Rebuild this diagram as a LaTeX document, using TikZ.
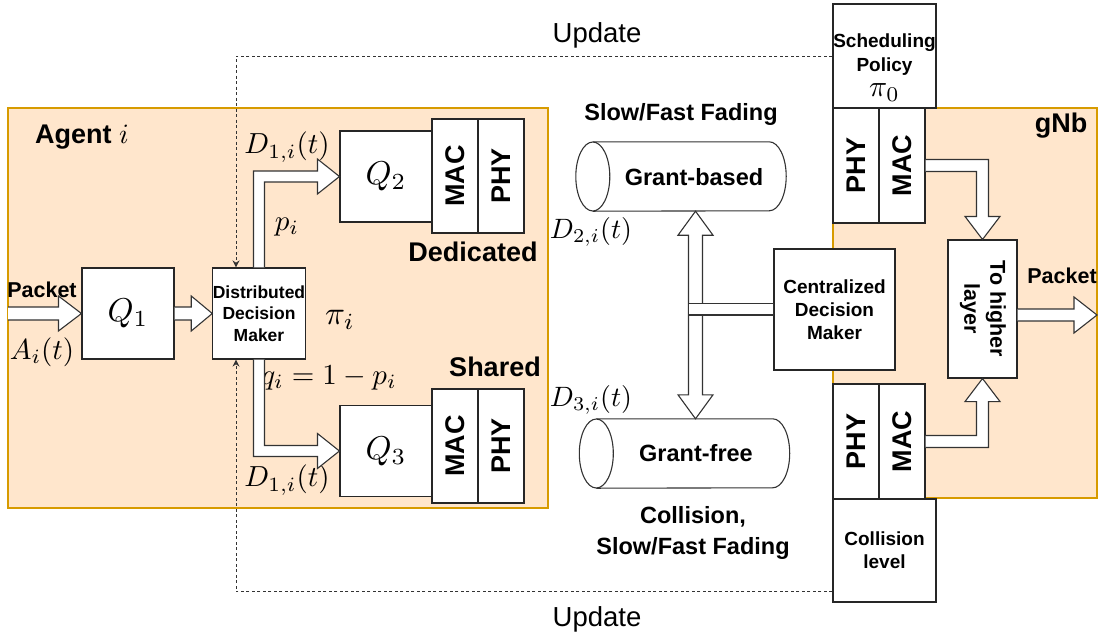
\RequirePackage{fix-cm}
\documentclass[tikz,border=0pt]{standalone}
\usepackage{fontspec}
\setsansfont{Liberation Sans}
\usepackage{graphicx}
\usetikzlibrary{arrows.meta,calc}
\newcommand{\scaledmath}[2]{\scalebox{#1}{\fontsize{10}{12}\selectfont$#2$}}

\begin{document}
\begin{tikzpicture}[
  x=1pt,y=-1pt,
  >=Latex,
  font=\sffamily,
  region/.style={draw=zoneline,fill=zonefill,line width=1.1pt},
  box/.style={draw=black!85,fill=white,line width=1.1pt,inner sep=0pt,align=center},
  queue/.style={box,minimum width=92pt,minimum height=91pt},
  macphy/.style={box,minimum width=46pt,minimum height=114pt,
    font=\sffamily\bfseries\fontsize{27}{30}\selectfont},
  ctrl/.style={box,font=\sffamily\bfseries\fontsize{19}{23}\selectfont},
  flex/.style={draw=black!80,fill=white,line width=1.1pt,line join=miter},
  update/.style={-{Stealth[length=7pt,width=7pt]},dash pattern=on 3pt off 2.5pt,
    line width=1pt,draw=black!80},
  heading/.style={font=\sffamily\bfseries\fontsize{27}{30}\selectfont},
  note/.style={font=\sffamily\bfseries\fontsize{23.5}{31}\selectfont,align=center},
  mathlbl/.style={inner sep=1pt},
  chan/.style={minimum width=210pt,minimum height=69pt,inner sep=0pt}
]

\definecolor{zonefill}{RGB}{255,230,204}
\definecolor{zoneline}{RGB}{215,155,0}

\useasboundingbox (0,0) rectangle (1099,635);

% agent and base station areas
\filldraw[region] (8,108) rectangle (548,508);
\filldraw[region] (833,108) rectangle (1097,498);

% Agent i
\node[heading] (agent) at (82,137) {Agent \scaledmath{2.8}{i}};
\node[queue] (q1) at (128,313.5) {\scaledmath{3.3}{Q_1}};
\node[ctrl,minimum width=92pt,minimum height=91pt,
  font=\sffamily\bfseries\fontsize{17.5}{21.7}\selectfont] (ddm) at (259,313.5)
  {Distributed\\Decision\\Maker};
\node[queue] (q2) at (386,176.5) {\scaledmath{3.3}{Q_2}};
\node[macphy] (mac2) at (455,176) {\rotatebox{90}{MAC}};
\node[macphy] (phy2) at (501,176) {\rotatebox{90}{PHY}};
\node[queue] (q3) at (386,451) {\scaledmath{3.3}{Q_3}};
\node[macphy] (mac3) at (455,446) {\rotatebox{90}{MAC}};
\node[macphy] (phy3) at (501,446) {\rotatebox{90}{PHY}};

\node[heading] (dedicated) at (473,252) {Dedicated};
\node[heading] (shared) at (495,367) {Shared};
\node[heading,font=\sffamily\bfseries\fontsize{21.5}{24}\selectfont] (pktinlbl) at (42,290) {Packet};
\node[mathlbl] (arrival) at (42,352) {\scaledmath{2.9}{A_i(t)}};
\node[mathlbl] (policy) at (340,320) {\scaledmath{3.3}{\pi_i}};
\node[mathlbl] (d1top) at (287,147) {\scaledmath{2.9}{D_{1,i}(t)}};
\node[mathlbl] (ptop) at (287,227) {\scaledmath{2.9}{p_i}};
\node[mathlbl] (qbot) at (329,378) {\scaledmath{2.9}{q_i=1-p_i}};
\node[mathlbl] (d1bot) at (287,480) {\scaledmath{2.9}{D_{1,i}(t)}};

\coordinate (pktin) at (8,313.5);

\draw[flex] ($(pktin)+(0,-6.5)$) -- ($(q1.west)+(-23,-6.5)$) -- ($(q1.west)+(-23,-17.5)$)
  -- (q1.west) -- ($(q1.west)+(-23,17.5)$) -- ($(q1.west)+(-23,6.5)$) -- ($(pktin)+(0,6.5)$);
\draw[flex] ($(q1.east)+(0,-6.5)$) -- ($(ddm.west)+(-21,-6.5)$) -- ($(ddm.west)+(-21,-17.5)$)
  -- (ddm.west) -- ($(ddm.west)+(-21,17.5)$) -- ($(ddm.west)+(-21,6.5)$) -- ($(q1.east)+(0,6.5)$);
\draw[flex] ($(ddm.north)+(-5.5,0)$) |- ($(q2.west)+(-22,-5.5)$) -- ($(q2.west)+(-22,-17.5)$)
  -- (q2.west) -- ($(q2.west)+(-22,17.5)$) -- ($(q2.west)+(-22,5.5)$) -| ($(ddm.north)+(5.5,0)$);
\draw[flex] ($(ddm.south)+(-5.5,0)$) |- ($(q3.west)+(-22,5.5)$) -- ($(q3.west)+(-22,17.5)$)
  -- (q3.west) -- ($(q3.west)+(-22,-17.5)$) -- ($(q3.west)+(-22,-5.5)$) -| ($(ddm.south)+(5.5,0)$);

% channels
\node[note] (fadetop) at (681,114) {Slow/Fast Fading};
\node[chan] (gb) at (681,176.5) {};
\node[chan] (gf) at (684.5,453.5) {};
\draw[flex] ([xshift=17pt]gb.north west) -- ([xshift=-17pt]gb.north east)
  arc[start angle=-90,end angle=90,x radius=17,y radius=34.5] -- ([xshift=17pt]gb.south west);
\draw[flex] ([xshift=17pt]gb.west) ellipse[x radius=17,y radius=34.5];
\draw[flex] ([xshift=17pt]gf.north west) -- ([xshift=-17pt]gf.north east)
  arc[start angle=-90,end angle=90,x radius=17,y radius=34.5] -- ([xshift=17pt]gf.south west);
\draw[flex] ([xshift=17pt]gf.west) ellipse[x radius=17,y radius=34.5];
\node[note] (gbtext) at (694,177.5) {Grant-based};
\node[note] (gftext) at (696,453) {Grant-free};
\node[mathlbl] (d2) at (591,232) {\scaledmath{2.8}{D_{2,i}(t)}};
\node[mathlbl] (d3) at (591,400) {\scaledmath{2.8}{D_{3,i}(t)}};
\node[note] (fadebot) at (693,533) {Collision,\\Slow/Fast Fading};

% gNb
\node[heading] (gnb) at (1061,126) {gNb};
\node[ctrl,minimum width=103pt,minimum height=104pt] (sched) at (884.5,56) {};
\node[font=\sffamily\bfseries\fontsize{19}{24}\selectfont,align=center] (schedtext) at (884.5,54.5)
  {Scheduling\\Policy};
\node[mathlbl] (schedpi) at (884.5,92.5) {\scaledmath{3}{\pi_0}};
\node[macphy,minimum height=115pt] (gphy1) at (856,165.5) {\rotatebox{90}{PHY}};
\node[macphy,minimum height=115pt] (gmac1) at (902,165.5) {\rotatebox{90}{MAC}};
\node[macphy,minimum height=115pt] (gphy2) at (856,441.5) {\rotatebox{90}{PHY}};
\node[macphy,minimum height=115pt] (gmac2) at (902,441.5) {\rotatebox{90}{MAC}};
\node[ctrl,minimum width=103pt,minimum height=103pt] (coll) at (884.5,550.5) {Collision\\level};
\node[ctrl,minimum width=121pt,minimum height=121pt] (cdm) at (834.5,309.5)
  {Centralized\\Decision\\Maker};
\node[ctrl,minimum width=69pt,minimum height=138pt,
  font=\sffamily\bfseries\fontsize{21.5}{26}\selectfont] (higher) at (982.5,309)
  {\rotatebox{-90}{\begin{tabular}{@{}c@{}}To higher\\layer\end{tabular}}};
\node[heading,font=\sffamily\bfseries\fontsize{21.5}{24}\selectfont] (pktoutlbl) at (1062,276) {Packet};

\coordinate (pktout) at (1097,315);
\coordinate (chan) at (695.5,309);

\draw[flex] ($(gmac1.east)+(0,-6)$) -| ($(higher.north)+(6,-23)$) -- ($(higher.north)+(17.5,-23)$)
  -- (higher.north) -- ($(higher.north)+(-17.5,-23)$) -- ($(higher.north)+(-6,-23)$) |- ($(gmac1.east)+(0,6)$);
\draw[flex] ($(gmac2.east)+(0,6)$) -| ($(higher.south)+(6,23)$) -- ($(higher.south)+(17.5,23)$)
  -- (higher.south) -- ($(higher.south)+(-17.5,23)$) -- ($(higher.south)+(-6,23)$) |- ($(gmac2.east)+(0,-6)$);
\draw[flex] ($(higher.east |- pktout)+(0,-6)$) -- ($(pktout)+(-23,-6)$) -- ($(pktout)+(-23,-18)$)
  -- (pktout) -- ($(pktout)+(-23,18)$) -- ($(pktout)+(-23,6)$) -- ($(higher.east |- pktout)+(0,6)$);

% both-way channel selection
\draw[flex] (chan |- gb.south) -- ++(17.5,24) -- ++(-10.5,0) -- ($(chan |- gf.north)+(7,-24)$)
  -- ++(10.5,0) -- (chan |- gf.north) -- ++(-17.5,-24) -- ++(10.5,0)
  -- ($(chan |- gb.south)+(-7,24)$) -- ++(-10.5,0) -- cycle;
\draw[flex] ($(chan)+(-7,-5.5)$) rectangle ($(cdm.west)+(0,5.5)$);

% policy updates
\draw[update] (sched.west) -| ([xshift=-23pt]ddm.north);
\draw[update] ([yshift=11pt]coll.south west) -| ([xshift=-23pt]ddm.south);
\node[font=\sffamily\fontsize{27.5}{30}\selectfont] (updtop) at (597,35) {Update};
\node[font=\sffamily\fontsize{27.5}{30}\selectfont] (updbot) at (597,619) {Update};

\end{tikzpicture}
\end{document}
